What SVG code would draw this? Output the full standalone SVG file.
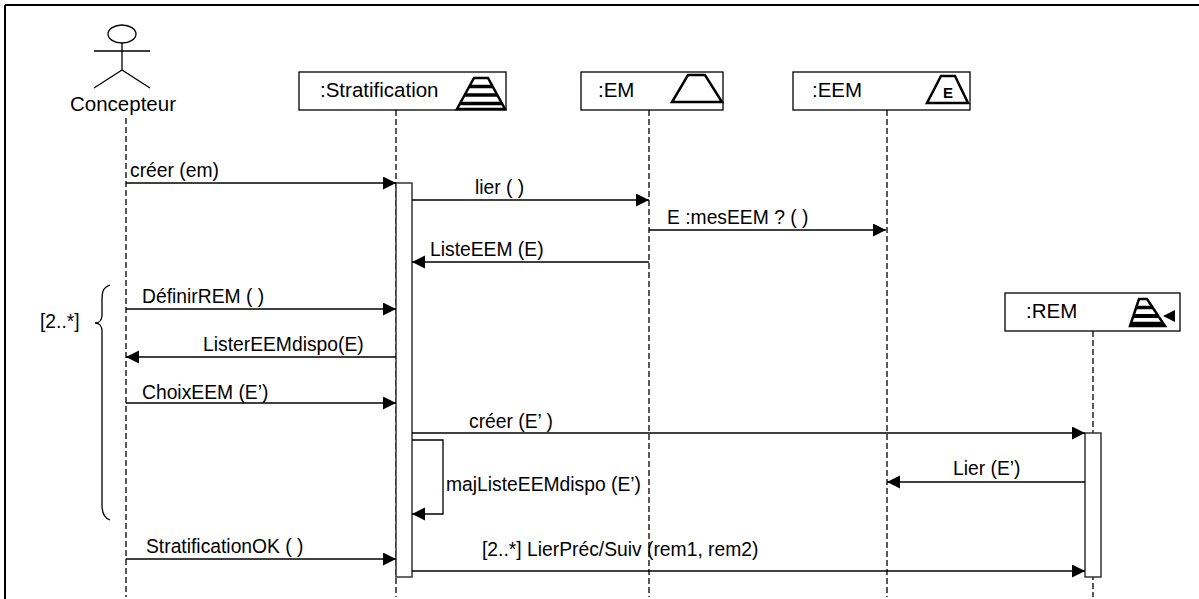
<svg xmlns="http://www.w3.org/2000/svg" width="1199" height="599" viewBox="0 0 1199 599">
<style>
text{font-family:"Liberation Sans",Arial,sans-serif;font-size:19.3px;fill:#000}
.nl{font-size:20.5px}
.box{fill:#fff;stroke:#000;stroke-width:1.3}
.life{stroke:#000;stroke-width:1.3;stroke-dasharray:6,3;fill:none}
.msg{stroke:#000;stroke-width:1.3;fill:none;marker-end:url(#ah)}
.act{fill:#fff;stroke:#333;stroke-width:1.5}
.ic{fill:#fff;stroke:#000;stroke-width:2.5;stroke-linejoin:miter}
.band{stroke:#000}
</style>
<defs>
<marker id="ah" markerUnits="userSpaceOnUse" markerWidth="14" markerHeight="14" refX="13" refY="6.5" orient="auto">
<path d="M0,0 L13,6.5 L0,13 z" fill="#000"/>
</marker>
</defs>
<g id="frame" stroke="#000" stroke-width="2" fill="none">
<line x1="5" y1="5" x2="1199" y2="5"/>
<line x1="5" y1="5" x2="5" y2="599"/>
</g>
<g id="lifelines">
<line class="life" x1="126" y1="118" x2="126" y2="597"/>
<line class="life" x1="396" y1="110" x2="396" y2="597"/>
<line class="life" x1="649" y1="110" x2="649" y2="597"/>
<line class="life" x1="887" y1="110" x2="887" y2="597"/>
<line class="life" x1="1093" y1="331" x2="1093" y2="597"/>
</g>
<g id="concepteur">
<ellipse cx="122" cy="34" rx="14" ry="9" fill="none" stroke="#000" stroke-width="1.3"/>
<path d="M94,51 H150 M122,43 V70 M94,88 L122,70 L150,88" fill="none" stroke="#000" stroke-width="1.3"/>
<text class="nl" x="70" y="111">Concepteur</text>
</g>
<g id="stratification">
<rect class="box" x="299" y="72" width="207" height="38"/>
<text class="nl" x="320" y="97">:Stratification</text>
<polygon class="ic" points="474,78 488,78 505,109 457,109"/>
<g class="band" stroke-width="3.5">
<line x1="469.3" y1="86.5" x2="492.7" y2="86.5"/>
<line x1="464.7" y1="95" x2="497.3" y2="95"/>
<line x1="460" y1="103.5" x2="502" y2="103.5"/>
</g>
</g>
<g id="em">
<rect class="box" x="581" y="72" width="142" height="38"/>
<text class="nl" x="598" y="97">:EM</text>
<polygon class="ic" points="688,75 705,75 722,102 672,102"/>
</g>
<g id="eem">
<rect class="box" x="793" y="72" width="177" height="38"/>
<text class="nl" x="812" y="97">:EEM</text>
<polygon class="ic" points="941,76 955,76 968,103 927,103"/>
<text x="948" y="98" text-anchor="middle" style="font-size:15px;font-weight:bold">E</text>
</g>
<g id="rem">
<rect class="box" x="1005" y="293" width="175" height="38"/>
<text class="nl" x="1026" y="318">:REM</text>
<polygon class="ic" points="1139,299 1147,299 1165,326 1130,326"/>
<g class="band">
<line x1="1136.5" y1="307.5" x2="1152.9" y2="307.5" stroke-width="3.5"/>
<line x1="1133.9" y1="316" x2="1158.2" y2="316" stroke-width="4"/>
<line x1="1131.5" y1="324" x2="1163.1" y2="324" stroke-width="4.5"/>
</g>
<polygon points="1159,316 1178,307 1178,325" fill="#fff"/>
<polygon points="1163,316 1175,310 1175,322" fill="#000"/>
</g>
<g id="activations">
<rect class="act" x="396" y="183" width="16" height="394"/>
<rect class="act" x="1085" y="433" width="16" height="144"/>
</g>
<g id="connectors">
<line class="msg" x1="126" y1="183" x2="396" y2="183"/>
<line class="msg" x1="412" y1="200" x2="649" y2="200"/>
<line class="msg" x1="649" y1="230" x2="886" y2="230"/>
<line class="msg" x1="649" y1="262" x2="412" y2="262"/>
<line class="msg" x1="126" y1="309" x2="396" y2="309"/>
<line class="msg" x1="396" y1="357" x2="126" y2="357"/>
<line class="msg" x1="126" y1="403" x2="396" y2="403"/>
<line class="msg" x1="412" y1="433" x2="1085" y2="433"/>
<path class="msg" d="M412,440 H443 V514 H412"/>
<line class="msg" x1="1085" y1="482" x2="887" y2="482"/>
<line class="msg" x1="126" y1="559" x2="396" y2="559"/>
<line class="msg" x1="412" y1="571" x2="1085" y2="571"/>
<path d="M110,285 C103,287 102,292 102,300 L102,315 C102,320 99,323 95,323 C99,323 102,326 102,331 L102,505 C102,513 104,518 110,520" fill="none" stroke="#000" stroke-width="1.3"/>
</g>
<g id="labels">
<text x="130" y="177">créer (em)</text>
<text x="475" y="194">lier ( )</text>
<text x="667" y="224">E :mesEEM ? ( )</text>
<text x="430" y="256">ListeEEM (E)</text>
<text x="40" y="328">[2..*]</text>
<text x="142" y="303">DéfinirREM ( )</text>
<text x="203" y="351">ListerEEMdispo(E)</text>
<text x="142" y="399">ChoixEEM (E’)</text>
<text x="469" y="428">créer (E’ )</text>
<text x="446" y="491">majListeEEMdispo (E’)</text>
<text x="482" y="556">[2..*] LierPréc/Suiv (rem1, rem2)</text>
<text x="146" y="553">StratificationOK ( )</text>
<text x="953" y="475">Lier (E’)</text>
</g>
</svg>
